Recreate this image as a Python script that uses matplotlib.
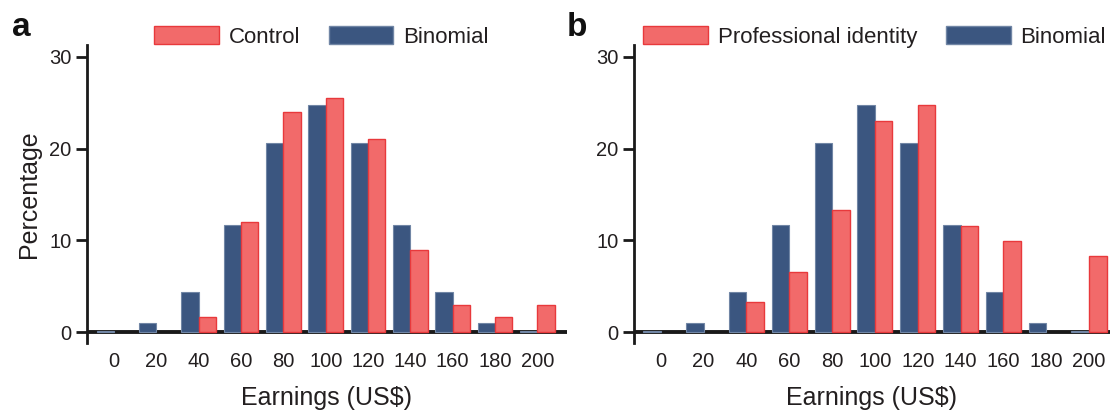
import numpy as np
import matplotlib
matplotlib.use("Agg")
from matplotlib import pyplot as plt

plt.rcParams['font.family'] = ['Liberation Sans', 'DejaVu Sans']

earnings = [0, 20, 40, 60, 80, 100, 120, 140, 160, 180, 200]
binomial = [0.1, 1.0, 4.4, 11.7, 20.6, 24.7, 20.6, 11.7, 4.4, 1.0, 0.1]
control = [0, 0, 1.6, 12.0, 24.0, 25.5, 21.0, 9.0, 3.0, 1.6, 3.0]
professional = [0, 0, 3.3, 6.6, 13.3, 23.0, 24.7, 11.6, 9.9, 0, 8.3]

red = '#F26A6A'
red_edge = '#E8393C'
blue = '#3B5680'
blue_edge = '#7186A5'
txt = '#231F20'

fig = plt.figure(figsize=(11.1, 4.11), dpi=100)
ax_a = fig.add_axes([0.0784, 0.165, 0.432, 0.726])
ax_b = fig.add_axes([0.571, 0.165, 0.429, 0.726])

x = np.arange(len(earnings))
w = 0.41


def draw(ax, other, label, xlim, legend_x):
    ax.axhline(0, color='#1a1a1a', linewidth=2.8, zorder=1)
    ax.bar(x - w / 2, binomial, w, color=blue, edgecolor=blue_edge, linewidth=0.8,
           label='Binomial', zorder=2)
    # no outline for empty bins, otherwise a red stroke shows on the baseline
    lw = [1.0 if v > 0 else 0 for v in other]
    ax.bar(x + w / 2, other, w, color=red, edgecolor=red_edge, linewidth=lw,
           label=label, zorder=2)
    ax.set_xlim(*xlim)
    ax.set_ylim(-1.2, 31.3)
    for s in ['top', 'right', 'bottom']:
        ax.spines[s].set_visible(False)
    ax.spines['left'].set_linewidth(2.0)
    ax.spines['left'].set_color('#1a1a1a')
    ax.set_yticks([0, 10, 20, 30])
    ax.set_xticks(x)
    ax.set_xticklabels([str(e) for e in earnings])
    ax.tick_params(axis='y', length=8, width=2, color='#1a1a1a', labelsize=14.5,
                   labelcolor=txt, pad=3)
    ax.tick_params(axis='x', length=0, labelsize=14.5, labelcolor=txt, pad=6)
    ax.set_xlabel('Earnings (US$)', fontsize=18, color=txt, labelpad=11)
    h, l = ax.get_legend_handles_labels()
    leg = ax.legend(h[::-1], l[::-1], loc='center', bbox_to_anchor=(legend_x, 1.027),
                    ncol=2, frameon=False, fontsize=16, handlelength=2.9,
                    handleheight=0.85, handletextpad=0.45, columnspacing=1.3,
                    borderaxespad=0, labelcolor=txt)
    for p in leg.get_patches():
        p.set_linewidth(1.0)


draw(ax_a, control, 'Control', (-0.64, 10.69), 0.489)
draw(ax_b, professional, 'Professional identity', (-0.63, 10.49), 0.506)
ax_a.set_ylabel('Percentage', fontsize=18, color=txt, labelpad=6)

fig.text(0.011, 0.912, 'a', fontsize=24, fontweight='bold', color='#111111')
fig.text(0.511, 0.912, 'b', fontsize=24, fontweight='bold', color='#111111')

fig.savefig('out.png', dpi=100)
